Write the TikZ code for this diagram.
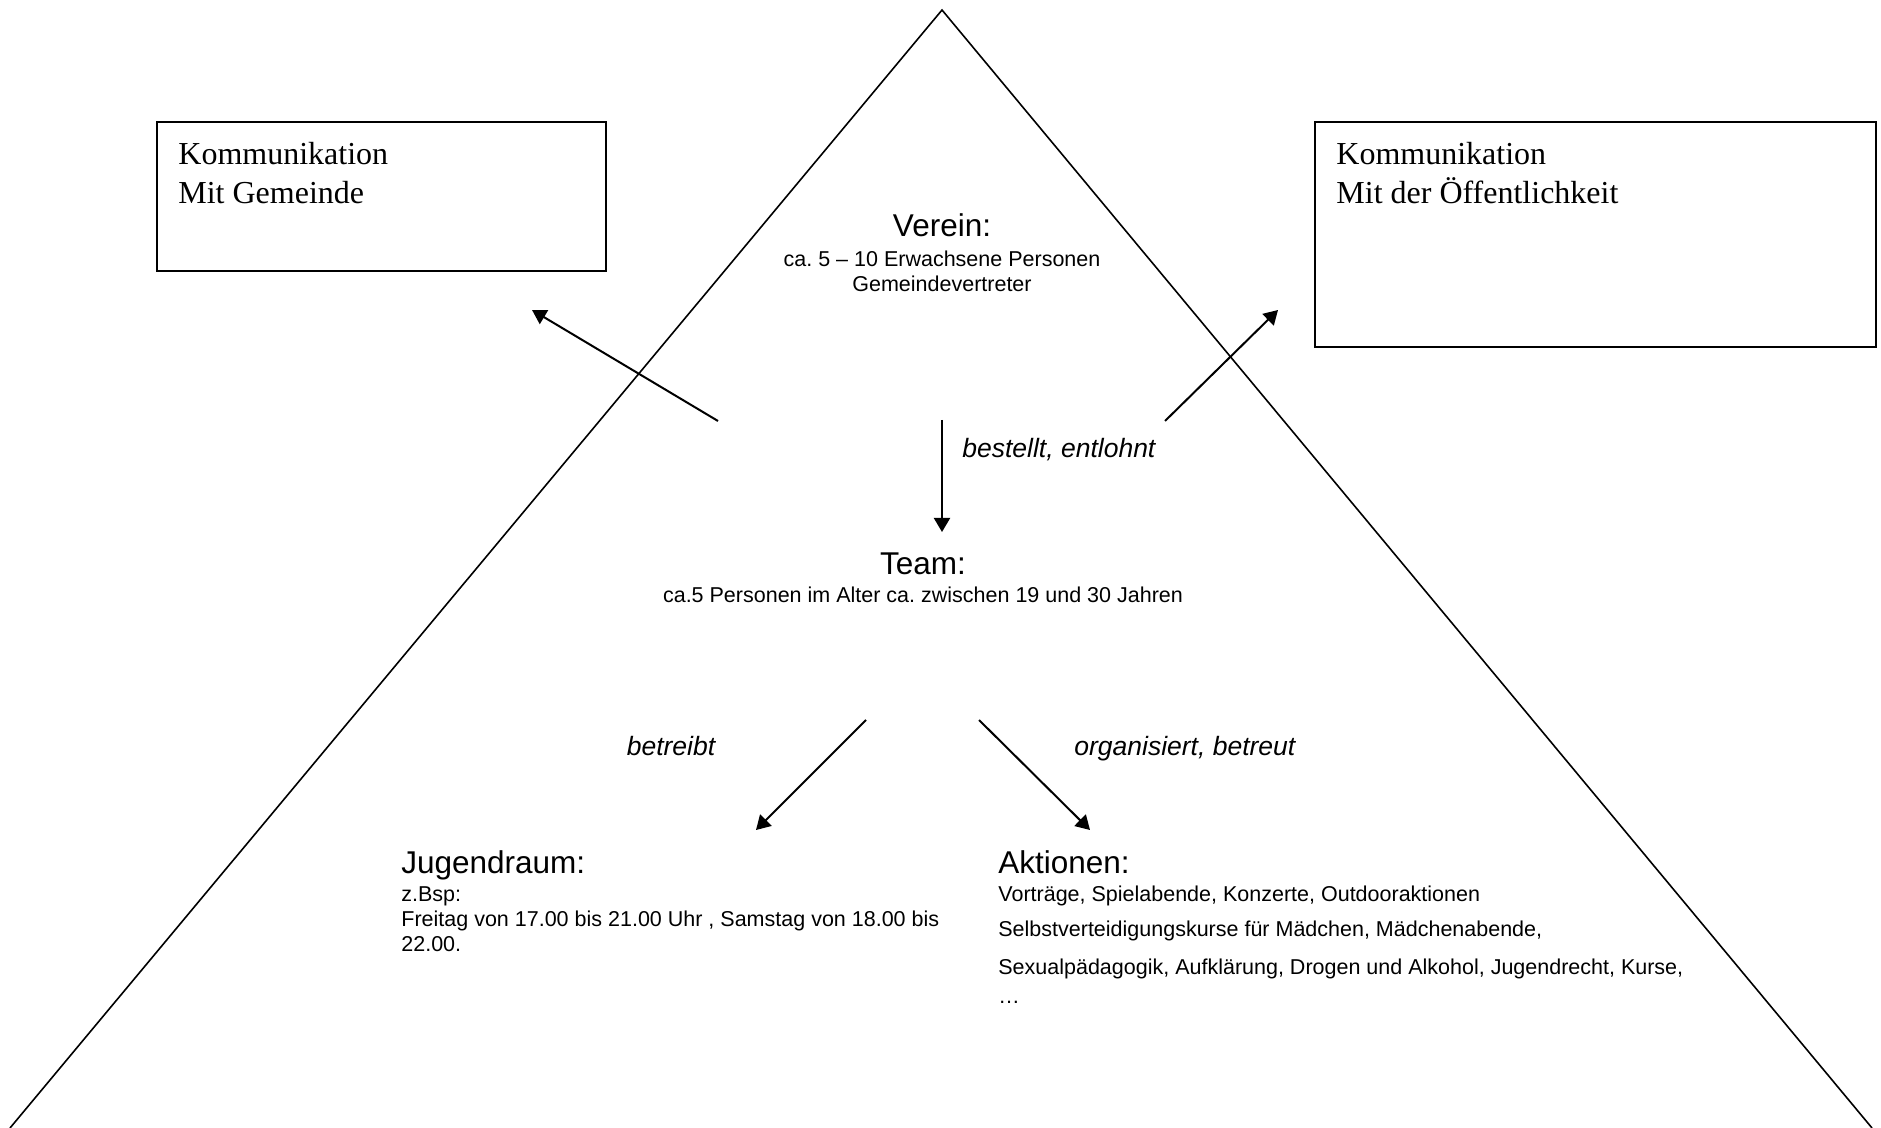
\documentclass[tikz,border=0pt]{standalone}
\usepackage{fontspec}
\setmainfont{Liberation Serif}
\newfontfamily\arialf{Liberation Sans}
\usetikzlibrary{arrows.meta}
\frenchspacing
\begin{document}
\begin{tikzpicture}[x=0.5pt,y=-0.5pt,
  boxk/.style={draw,line width=0.9pt},
  komm/.style={font=\fontsize{16}{19}\selectfont, anchor=base west, inner sep=0pt},
  head/.style={font=\arialf\fontsize{15.75}{18}\selectfont, inner sep=0pt},
  lbl/.style={font=\arialf\itshape\fontsize{13.25}{16}\selectfont, inner sep=0pt},
  body/.style={font=\arialf\fontsize{10.75}{12.5}\selectfont, inner sep=0pt},
  arr/.style={line width=1pt, -{Triangle[length=7pt,width=8pt]}}]
\useasboundingbox (0,0) rectangle (1881,1128);

% pyramid
\coordinate (apex) at (942,10);
\coordinate (bl) at (10,1128);
\coordinate (br) at (1872,1128);
\draw[line width=0.8pt] (bl) -- (apex) -- (br);

% communication boxes
\draw[boxk] (157,122) rectangle (606,271);
\node[komm] (k1a) at (178,165) {Kommunikation};
\node[komm] (k1b) at (178,204) {Mit Gemeinde};
\draw[boxk] (1315,122) rectangle (1876,347);
\node[komm] (k2a) at (1336,165) {Kommunikation};
\node[komm] (k2b) at (1336,204) {Mit der Öffentlichkeit};

% Verein
\node[head, anchor=base] (verein) at (942,237) {Verein:};
\node[body, anchor=base] (v1) at (942,267) {ca. 5 – 10 Erwachsene Personen};
\node[body, anchor=base] (v2) at (942,292) {Gemeindevertreter};

% arrows from Verein
\coordinate (la0) at (718,421); \coordinate (la1) at (532,310);
\coordinate (ra0) at (1165,421); \coordinate (ra1) at (1278,310);
\draw[arr] (la0) -- (la1);
\draw[arr] (ra0) -- (ra1);
\coordinate (da0) at (942,420); \coordinate (da1) at (942,532);
\draw[arr] (da0) -- (da1);
\node[lbl, anchor=base west] (bestellt) at (962,458) {bestellt, entlohnt};

% Team
\node[head, anchor=base] (team) at (923,575) {Team:};
\node[body, anchor=base] (t1) at (923,603) {ca.5 Personen im Alter ca. zwischen 19 und 30 Jahren};

% arrows from Team
\coordinate (ja0) at (866,720); \coordinate (ja1) at (756,830);
\coordinate (aa0) at (979,720); \coordinate (aa1) at (1090,830);
\draw[arr] (ja0) -- (ja1);
\draw[arr] (aa0) -- (aa1);
\node[lbl, anchor=base] (betreibt) at (671,755) {betreibt};
\node[lbl, anchor=base west] (organisiert) at (1074,755) {organisiert, betreut};

% Jugendraum
\node[head, anchor=base west] (jugend) at (401,873) {Jugendraum:};
\node[body, anchor=base west] (j1) at (401,901) {z.Bsp:};
\node[body, anchor=base west] (j2) at (401,926) {Freitag von 17.00 bis 21.00 Uhr , Samstag von 18.00 bis};
\node[body, anchor=base west] (j3) at (401,951) {22.00.};

% Aktionen
\node[head, anchor=base west] (aktionen) at (998,873) {Aktionen:};
\node[body, anchor=base west] (a1) at (998,901) {Vorträge, Spielabende, Konzerte, Outdooraktionen};
\node[body, anchor=base west] (a2) at (998,936) {Selbstverteidigungskurse für Mädchen,\ Mädchenabende,};
\node[body, anchor=base west] (a3) at (998,974) {Sexualpädagogik, Aufklärung, Drogen und Alkohol,\ Jugendrecht, Kurse,};
\node[body, anchor=base west] (a4) at (998,1003) {…};
\end{tikzpicture}
\end{document}
